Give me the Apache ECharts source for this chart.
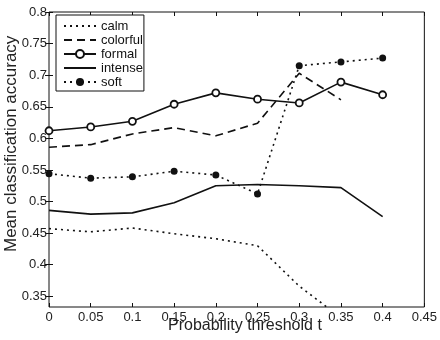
<!DOCTYPE html>
<html>
<head>
<meta charset="utf-8">
<script src="https://cdn.jsdelivr.net/npm/echarts@6/dist/echarts.min.js"></script>
<style>
  html, body { margin: 0; padding: 0; background: #fff; }
  #chart { width: 440px; height: 340px; }
</style>
</head>
<body>
<div id="chart"></div>
<script>
// thresholds t on the x axis
const thresholds = [0, 0.05, 0.1, 0.15, 0.2, 0.25, 0.3, 0.35, 0.4]
const xTicks = [0, 0.05, 0.1, 0.15, 0.2, 0.25, 0.3, 0.35, 0.4, 0.45]
const yTicks = [0.35, 0.4, 0.45, 0.5, 0.55, 0.6, 0.65, 0.7, 0.75, 0.8]

const calm = [0.457, 0.452, 0.458, 0.449, 0.441, 0.430, 0.366, 0.316]
const colorful = [0.586, 0.590, 0.607, 0.617, 0.604, 0.624, 0.703, 0.661]
const formal = [0.612, 0.618, 0.627, 0.654, 0.672, 0.662, 0.656, 0.689, 0.669]
const intense = [0.486, 0.480, 0.482, 0.498, 0.525, 0.527, 0.525, 0.522, 0.476]
const soft = [0.544, 0.537, 0.539, 0.548, 0.542, 0.512, 0.715, 0.721, 0.727]

const pairs = (vals) => vals.map((v, i) => [thresholds[i], v])

const chart = echarts.init(document.getElementById('chart'))
const font = 'Liberation Sans, Arial, sans-serif'
const fmt = (v) => String(+(+v).toFixed(2))

const baseLine = (name, data, type, extra) => Object.assign({
  name: name,
  type: 'line',
  data: pairs(data),
  symbol: 'none',
  animation: false,
  clip: true,
  lineStyle: { color: '#111', width: 1.6, type: type },
  itemStyle: { color: '#111' }
}, extra || {})

// legend entries for plain lines get no marker
const noMark = { opacity: 0 }

const option = {
  animation: false,
  grid: {
    left: 49, right: 14, top: 12, bottom: 33,
    show: true, borderColor: '#111', borderWidth: 1, backgroundColor: '#fff'
  },
  legend: {
    orient: 'vertical',
    left: 56, top: 15,
    itemWidth: 32, itemHeight: 10, itemGap: 1,
    padding: [4.5, 1, 2.5, 7],
    backgroundColor: '#fff',
    borderColor: '#111', borderWidth: 1,
    textStyle: { fontFamily: font, fontSize: 13, color: '#111' },
    data: [
      { name: 'calm', itemStyle: noMark },
      { name: 'colorful', itemStyle: noMark },
      { name: 'formal' },
      { name: 'intense', itemStyle: noMark },
      { name: 'soft' }
    ]
  },
  xAxis: [{
    type: 'value', min: 0, max: 0.45, interval: 0.05, position: 'bottom',
    axisLine: { show: false },
    axisTick: { show: true, inside: true, length: 4, lineStyle: { color: '#111' }, customValues: xTicks },
    axisLabel: { fontFamily: font, fontSize: 13, color: '#222', margin: 4, formatter: fmt, customValues: xTicks },
    splitLine: { show: false }
  }, {
    type: 'value', min: 0, max: 0.45, interval: 0.05, position: 'top',
    axisLine: { show: false },
    axisTick: { show: true, inside: true, length: 4, lineStyle: { color: '#111' }, customValues: xTicks },
    axisLabel: { show: false },
    splitLine: { show: false }
  }],
  yAxis: [{
    type: 'value', min: 0.333, max: 0.8, position: 'left',
    axisLine: { show: false },
    axisTick: { show: true, inside: true, length: 4, lineStyle: { color: '#111' }, customValues: yTicks },
    axisLabel: { fontFamily: font, fontSize: 13, color: '#222', margin: 2, formatter: fmt, customValues: yTicks },
    splitLine: { show: false }
  }, {
    type: 'value', min: 0.333, max: 0.8, position: 'right',
    axisLine: { show: false },
    axisTick: { show: true, inside: true, length: 4, lineStyle: { color: '#111' }, customValues: yTicks },
    axisLabel: { show: false },
    splitLine: { show: false }
  }],
  graphic: [{
    type: 'text', left: 168, top: 318,
    style: { text: 'Probability threshold t', fontFamily: font, fontSize: 16, fill: '#222' }
  }, {
    type: 'text', rotation: Math.PI / 2, x: 3, y: 252,
    style: { text: 'Mean classification accuracy', fontFamily: font, fontSize: 17, fill: '#222' }
  }],
  series: [
    baseLine('calm', calm, [2, 4]),
    baseLine('colorful', colorful, [8, 5]),
    baseLine('formal', formal, 'solid', {
      symbol: 'circle', symbolSize: 7,
      itemStyle: { color: '#fff', borderColor: '#111', borderWidth: 1.8 }
    }),
    baseLine('intense', intense, 'solid'),
    baseLine('soft', soft, [2, 4], {
      symbol: 'circle', symbolSize: 7,
      itemStyle: { color: '#111', borderColor: '#111', borderWidth: 0 }
    })
  ]
}
chart.setOption(option)
</script>
</body>
</html>
